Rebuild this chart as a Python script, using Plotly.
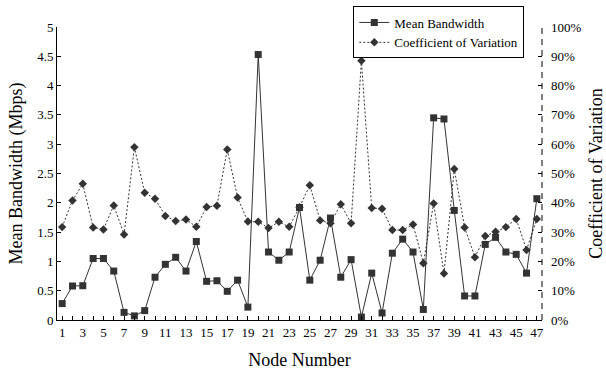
import plotly.graph_objects as go

nodes = list(range(1, 48))
mean_bw = [0.28, 0.58, 0.585, 1.05, 1.05, 0.835, 0.13, 0.07, 0.16, 0.73,
           0.95, 1.07, 0.835, 1.34, 0.66, 0.67, 0.49, 0.68, 0.22, 4.53,
           1.16, 1.02, 1.16, 1.92, 0.68, 1.02, 1.74, 0.73, 1.03, 0.05,
           0.80, 0.12, 1.14, 1.38, 1.16, 0.18, 3.45, 3.43, 1.87, 0.41,
           0.41, 1.29, 1.41, 1.16, 1.12, 0.80, 2.07]
cv_pct = [31.7, 40.8, 46.5, 31.6, 30.9, 39.1, 29.2, 59.0, 43.4, 41.4,
          35.5, 33.8, 34.3, 31.8, 38.6, 39.0, 58.2, 41.8, 33.6, 33.5,
          31.4, 33.5, 31.8, 38.5, 46.0, 34.0, 33.0, 39.5, 33.0, 88.5,
          38.2, 38.0, 30.7, 30.7, 32.6, 19.4, 39.8, 15.9, 51.5, 31.6,
          21.4, 28.7, 30.1, 31.7, 34.5, 23.9, 34.5]
x_tickvals = list(range(1, 48, 2))
x_ticktext = [str(v) for v in x_tickvals]
y_tickvals = [0, 0.5, 1, 1.5, 2, 2.5, 3, 3.5, 4, 4.5, 5]
y_ticktext = ["0", "0.5", "1", "1.5", "2", "2.5", "3", "3.5", "4", "4.5", "5"]
y2_tickvals = list(range(0, 101, 10))
y2_ticktext = [f"{v}%" for v in y2_tickvals]

FONT = "Liberation Serif, Times New Roman, serif"
INK = "#333333"

fig = go.Figure()
fig.add_trace(go.Scatter(
    x=nodes, y=mean_bw, name="Mean Bandwidth", mode="lines+markers",
    line=dict(color=INK, width=1),
    marker=dict(symbol="square", size=7, color=INK),
))
fig.add_trace(go.Scatter(
    x=nodes, y=cv_pct, name="Coefficient of Variation", mode="lines+markers",
    yaxis="y2",
    line=dict(color=INK, width=1, dash="2px,2px"),
    marker=dict(symbol="diamond", size=6.5, color=INK),
))

fig.update_layout(
    width=606, height=372,
    margin=dict(l=57, r=64, t=27, b=52, autoexpand=False),
    paper_bgcolor="white", plot_bgcolor="white",
    font=dict(family=FONT, size=13, color="black"),
    showlegend=True,
    legend=dict(
        x=0.9635, xanchor="right", y=1.07, yanchor="top",
        bgcolor="white", bordercolor="black", borderwidth=1,
        font=dict(family=FONT, size=13, color="black"),
        tracegroupgap=0, itemwidth=30,
    ),
    xaxis=dict(
        range=[0.5, 47.5], tickmode="array", tickvals=x_tickvals, ticktext=x_ticktext,
        ticks="inside", ticklen=4, tickcolor="black", showline=True, linecolor="black",
        linewidth=1, showgrid=False, zeroline=False,
        minor=dict(tickmode="linear", tick0=0, dtick=1, ticks="inside", ticklen=4,
                   tickcolor="black", showgrid=False),
        title=dict(text="Node Number", font=dict(family=FONT, size=18), standoff=14),
        tickfont=dict(family=FONT, size=13),
        automargin=False,
    ),
    yaxis=dict(
        range=[0, 5], tickmode="array", tickvals=y_tickvals, ticktext=y_ticktext,
        ticks="inside", ticklen=4, tickcolor="black", showline=True, linecolor="black",
        linewidth=1, showgrid=False, zeroline=False,
        title=dict(text="Mean Bandwidth (Mbps)", font=dict(family=FONT, size=18), standoff=9),
        tickfont=dict(family=FONT, size=13),
        automargin=False,
    ),
    yaxis2=dict(
        range=[0, 100], overlaying="y", side="right", tickmode="array",
        tickvals=y2_tickvals, ticktext=y2_ticktext,
        ticks="inside", ticklen=4, tickcolor="black", showline=False,
        showgrid=False, zeroline=False, ticklabelstandoff=8,
        title=dict(text="Coefficient of Variation", font=dict(family=FONT, size=18), standoff=9),
        tickfont=dict(family=FONT, size=13),
        automargin=False,
    ),
    shapes=[dict(type="line", xref="paper", yref="paper", x0=1, x1=1, y0=0, y1=1,
                 line=dict(color="black", width=1, dash="6px,5px"))],
)

fig.write_html(
    "out.html",
    config={"displayModeBar": False},
    post_script="document.body.style.margin='0px';document.body.style.overflow='hidden';",
)
